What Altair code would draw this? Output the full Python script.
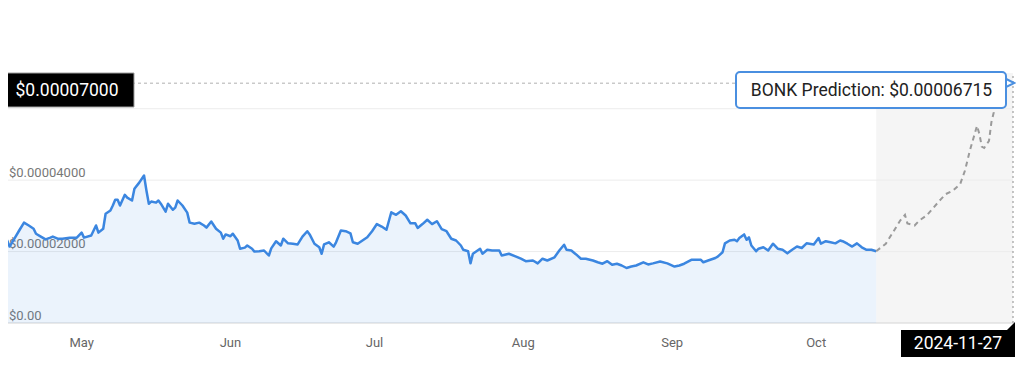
import altair as alt
import pandas as pd

# ---------------- data ----------------
hist_dates = [
    "2024-04-30T00:00", "2024-04-30T12:00", "2024-05-01T12:00", "2024-05-02T00:00", "2024-05-03T00:00",
    "2024-05-04T00:00", "2024-05-05T00:00", "2024-05-06T00:00", "2024-05-07T00:00", "2024-05-07T12:00",
    "2024-05-08T12:00", "2024-05-09T12:00", "2024-05-10T12:00", "2024-05-11T00:00", "2024-05-12T00:00",
    "2024-05-13T00:00", "2024-05-14T12:00", "2024-05-16T00:00", "2024-05-17T00:00", "2024-05-17T12:00",
    "2024-05-19T00:00", "2024-05-19T12:00", "2024-05-20T00:00", "2024-05-20T12:00", "2024-05-21T12:00",
    "2024-05-22T00:00", "2024-05-23T00:00", "2024-05-23T12:00", "2024-05-24T00:00", "2024-05-24T12:00",
    "2024-05-25T00:00", "2024-05-26T00:00", "2024-05-26T12:00", "2024-05-27T12:00", "2024-05-28T00:00",
    "2024-05-29T00:00", "2024-05-30T00:00", "2024-05-30T12:00", "2024-05-31T00:00", "2024-05-31T12:00",
    # June
    "2024-06-01T12:00", "2024-06-02T00:00", "2024-06-02T12:00", "2024-06-03T12:00", "2024-06-04T00:00",
    "2024-06-05T00:00", "2024-06-05T12:00", "2024-06-06T00:00", "2024-06-07T00:00", "2024-06-08T00:00",
    "2024-06-08T12:00", "2024-06-09T12:00", "2024-06-10T12:00", "2024-06-11T12:00", "2024-06-12T00:00",
    "2024-06-13T00:00", "2024-06-14T00:00", "2024-06-15T00:00", "2024-06-15T12:00", "2024-06-16T00:00",
    "2024-06-17T00:00", "2024-06-17T12:00", "2024-06-18T12:00", "2024-06-19T00:00", "2024-06-20T00:00",
    "2024-06-20T12:00", "2024-06-21T12:00", "2024-06-22T00:00", "2024-06-23T00:00", "2024-06-24T00:00",
    "2024-06-25T00:00", "2024-06-25T12:00", "2024-06-26T12:00", "2024-06-27T12:00", "2024-06-28T00:00",
    "2024-06-29T00:00", "2024-06-30T00:00",
    # July
    "2024-07-01T00:00", "2024-07-02T00:00", "2024-07-03T00:00", "2024-07-03T12:00", "2024-07-04T12:00",
    "2024-07-05T00:00", "2024-07-05T12:00", "2024-07-06T00:00", "2024-07-06T12:00", "2024-07-07T12:00",
    "2024-07-08T12:00", "2024-07-09T00:00", "2024-07-10T00:00", "2024-07-11T00:00", "2024-07-12T00:00",
    "2024-07-12T12:00", "2024-07-13T12:00", "2024-07-14T12:00", "2024-07-15T12:00", "2024-07-16T12:00",
    "2024-07-17T12:00", "2024-07-18T12:00", "2024-07-19T12:00", "2024-07-20T12:00", "2024-07-21T12:00",
    "2024-07-22T12:00", "2024-07-23T12:00", "2024-07-24T12:00", "2024-07-25T12:00", "2024-07-26T00:00",
    "2024-07-27T00:00", "2024-07-28T00:00", "2024-07-29T00:00", "2024-07-30T00:00", "2024-07-31T00:00",
    # August
    "2024-08-01T00:00", "2024-08-02T00:00", "2024-08-03T00:00", "2024-08-04T00:00", "2024-08-04T12:00",
    "2024-08-05T12:00", "2024-08-06T00:00", "2024-08-06T12:00", "2024-08-08T00:00", "2024-08-08T12:00",
    "2024-08-09T12:00", "2024-08-10T12:00", "2024-08-12T00:00", "2024-08-12T12:00", "2024-08-14T00:00",
    "2024-08-15T12:00", "2024-08-16T12:00", "2024-08-17T12:00", "2024-08-19T00:00", "2024-08-20T00:00",
    "2024-08-21T00:00", "2024-08-22T00:00", "2024-08-23T12:00", "2024-08-24T12:00", "2024-08-25T12:00",
    "2024-08-26T00:00", "2024-08-27T00:00", "2024-08-28T00:00", "2024-08-29T00:00", "2024-08-30T00:00",
    "2024-08-31T12:00",
    # September
    "2024-09-01T12:00", "2024-09-02T12:00", "2024-09-03T12:00", "2024-09-04T12:00", "2024-09-05T12:00",
    "2024-09-06T12:00", "2024-09-07T12:00", "2024-09-08T12:00", "2024-09-09T12:00", "2024-09-11T00:00",
    "2024-09-12T00:00", "2024-09-13T00:00", "2024-09-14T12:00", "2024-09-16T00:00", "2024-09-17T12:00",
    "2024-09-18T12:00", "2024-09-19T12:00", "2024-09-21T00:00", "2024-09-22T00:00", "2024-09-23T00:00",
    "2024-09-23T12:00", "2024-09-24T12:00", "2024-09-26T00:00", "2024-09-26T12:00", "2024-09-27T12:00",
    "2024-09-28T00:00", "2024-09-29T00:00", "2024-09-30T00:00", "2024-09-30T12:00",
    # October
    "2024-10-01T00:00", "2024-10-02T00:00", "2024-10-02T12:00", "2024-10-03T00:00", "2024-10-03T12:00",
    "2024-10-04T12:00", "2024-10-05T00:00", "2024-10-06T00:00", "2024-10-07T00:00", "2024-10-08T00:00",
    "2024-10-09T00:00", "2024-10-10T00:00", "2024-10-11T00:00", "2024-10-12T00:00", "2024-10-13T00:00",
    "2024-10-14T00:00", "2024-10-15T00:00", "2024-10-16T12:00", "2024-10-17T12:00", "2024-10-18T00:00",
    "2024-10-19T00:00", "2024-10-20T00:00", "2024-10-21T00:00", "2024-10-22T00:00", "2024-10-22T12:00",
    "2024-10-23T12:00", "2024-10-24T12:00", "2024-10-25T12:00", "2024-10-26T12:00", "2024-10-27T12:00",
    "2024-10-28T12:00", "2024-10-29T12:00",
]
hist_prices = [
    2.45e-5, 2.42e-5, 2.31e-5, 2.14e-5, 2.36e-5,
    2.59e-5, 2.81e-5, 2.73e-5, 2.64e-5, 2.50e-5,
    2.42e-5, 2.34e-5, 2.39e-5, 2.42e-5, 2.36e-5,
    2.36e-5, 2.39e-5, 2.39e-5, 2.53e-5, 2.39e-5,
    2.45e-5, 2.59e-5, 2.73e-5, 2.53e-5, 2.64e-5,
    3.06e-5, 3.15e-5, 3.29e-5, 3.45e-5, 3.45e-5,
    3.29e-5, 3.59e-5, 3.51e-5, 3.43e-5, 3.76e-5,
    3.93e-5, 4.13e-5, 3.71e-5, 3.34e-5, 3.40e-5,
    # June
    3.37e-5, 3.43e-5, 3.34e-5, 3.12e-5, 3.34e-5,
    3.17e-5, 3.23e-5, 3.43e-5, 3.29e-5, 3.09e-5,
    2.81e-5, 2.78e-5, 2.81e-5, 2.73e-5, 2.67e-5,
    2.84e-5, 2.64e-5, 2.53e-5, 2.36e-5, 2.48e-5,
    2.43e-5, 2.50e-5, 2.31e-5, 2.08e-5, 2.11e-5,
    2.17e-5, 2.08e-5, 2.00e-5, 2.01e-5, 2.03e-5,
    1.89e-5, 2.09e-5, 2.29e-5, 2.17e-5, 2.36e-5,
    2.23e-5, 2.22e-5,
    # July
    2.20e-5, 2.42e-5, 2.57e-5, 2.48e-5, 2.22e-5,
    2.17e-5, 2.12e-5, 1.94e-5, 2.20e-5, 2.26e-5,
    2.14e-5, 2.26e-5, 2.59e-5, 2.57e-5, 2.51e-5,
    2.26e-5, 2.22e-5, 2.31e-5, 2.40e-5, 2.57e-5,
    2.77e-5, 2.70e-5, 2.61e-5, 3.10e-5, 3.03e-5,
    3.13e-5, 3.01e-5, 2.79e-5, 2.79e-5, 2.66e-5,
    2.77e-5, 2.89e-5, 2.77e-5, 2.85e-5, 2.63e-5,
    # August
    2.57e-5, 2.36e-5, 2.31e-5, 2.17e-5, 2.05e-5,
    2.01e-5, 1.67e-5, 1.94e-5, 2.08e-5, 1.94e-5,
    2.05e-5, 2.03e-5, 2.03e-5, 1.89e-5, 1.94e-5,
    1.86e-5, 1.80e-5, 1.73e-5, 1.75e-5, 1.67e-5,
    1.80e-5, 1.75e-5, 1.84e-5, 2.03e-5, 2.19e-5,
    2.05e-5, 2.03e-5, 1.92e-5, 1.80e-5, 1.80e-5,
    1.75e-5,
    # September
    1.70e-5, 1.66e-5, 1.73e-5, 1.63e-5, 1.66e-5,
    1.61e-5, 1.54e-5, 1.58e-5, 1.61e-5, 1.70e-5,
    1.64e-5, 1.67e-5, 1.72e-5, 1.67e-5, 1.58e-5,
    1.61e-5, 1.66e-5, 1.77e-5, 1.77e-5, 1.77e-5,
    1.70e-5, 1.75e-5, 1.82e-5, 1.86e-5, 1.98e-5,
    2.23e-5, 2.31e-5, 2.33e-5, 2.29e-5,
    # October
    2.38e-5, 2.48e-5, 2.33e-5, 2.40e-5, 2.17e-5,
    2.01e-5, 2.08e-5, 2.12e-5, 2.03e-5, 2.22e-5,
    2.08e-5, 2.05e-5, 1.95e-5, 2.05e-5, 2.14e-5,
    2.10e-5, 2.23e-5, 2.20e-5, 2.38e-5, 2.22e-5,
    2.29e-5, 2.26e-5, 2.23e-5, 2.31e-5, 2.29e-5,
    2.22e-5, 2.14e-5, 2.23e-5, 2.12e-5, 2.05e-5,
    2.05e-5, 2.01e-5,
]

forecast_dates = [
    "2024-10-29T12:00", "2024-10-31T12:00", "2024-11-02T00:00", "2024-11-03T12:00", "2024-11-04T12:00",
    "2024-11-05T00:00", "2024-11-06T12:00", "2024-11-07T12:00", "2024-11-09T00:00", "2024-11-10T12:00",
    "2024-11-12T00:00", "2024-11-13T00:00", "2024-11-14T12:00", "2024-11-16T00:00", "2024-11-17T00:00",
    "2024-11-18T00:00", "2024-11-19T12:00", "2024-11-20T00:00", "2024-11-20T12:00", "2024-11-21T00:00",
    "2024-11-22T00:00", "2024-11-22T12:00", "2024-11-23T00:00", "2024-11-23T12:00", "2024-11-24T12:00",
    "2024-11-27T00:00",
]
forecast_prices = [
    2.01e-5, 2.22e-5, 2.54e-5, 2.87e-5, 3.03e-5,
    2.79e-5, 2.73e-5, 2.87e-5, 3.01e-5, 3.24e-5,
    3.47e-5, 3.61e-5, 3.71e-5, 3.89e-5, 4.27e-5,
    4.82e-5, 5.52e-5, 5.29e-5, 4.94e-5, 4.90e-5,
    5.10e-5, 5.62e-5, 5.90e-5, 6.22e-5, 6.56e-5,
    6.715e-5,
]

grid_ticks = [2e-5, 4e-5, 6e-5]
label_ticks = [0, 2e-5, 4e-5]
y_max = 7e-5
month_labels = ["May", "Jun", "Jul", "Aug", "Sep", "Oct"]
month_label_dates = ["2024-05-17", "2024-06-17", "2024-07-17", "2024-08-17", "2024-09-17", "2024-10-17"]
x_start = "2024-04-30"
x_end = "2024-11-27"

assert len(hist_dates) == len(hist_prices)
assert len(forecast_dates) == len(forecast_prices)

# ---------------- tables ----------------
hist = pd.DataFrame({"date": pd.to_datetime(hist_dates), "price": hist_prices})
fc = pd.DataFrame({"date": pd.to_datetime(forecast_dates), "price": forecast_prices})

prediction = forecast_prices[-1]
pred_label = f"BONK Prediction: ${prediction:.8f}"
top_label = f"${y_max:.8f}"
date_label = x_end


def money(v):
    return "$0.00" if v == 0 else f"${v:.8f}"


ts_start = pd.Timestamp(x_start)
ts_end = pd.Timestamp(x_end)

grid_df = pd.DataFrame({"date": [ts_start] * len(grid_ticks), "end": [ts_end] * len(grid_ticks),
                        "price": grid_ticks})
base_df = pd.DataFrame({"date": [ts_start], "end": [ts_end], "price": [0.0]})
ylab_df = pd.DataFrame({"date": [ts_start] * len(label_ticks), "price": label_ticks,
                        "label": [money(v) for v in label_ticks]})
xlab_df = pd.DataFrame({"date": pd.to_datetime(month_label_dates), "price": [0.0] * len(month_labels),
                        "label": month_labels})
region = pd.DataFrame({"date": [fc["date"].iloc[0]], "end": [fc["date"].iloc[-1]],
                       "price": [0.0], "hi": [y_max]})
hline_df = pd.DataFrame({"date": [ts_start], "end": [ts_end], "price": [prediction]})
vline_df = pd.DataFrame({"date": [ts_end], "price": [0.0], "hi": [y_max]})

x_scale = alt.Scale(domain=[ts_start.isoformat(), ts_end.isoformat()], type="time")
y_scale = alt.Scale(domain=[0, y_max], nice=False, zero=True)

FONT = "Roboto"
BLUE = "#3b86e0"

X = alt.X("date:T", scale=x_scale, axis=None)
Y = alt.Y("price:Q", scale=y_scale, axis=None)

shade = alt.Chart(region).mark_rect(color="#000000", opacity=0.04).encode(x=X, x2="end:T", y=Y, y2="hi:Q")
grid = alt.Chart(grid_df).mark_rule(color="#ececec", strokeWidth=1).encode(x=X, x2="end:T", y=Y)
baseline = alt.Chart(base_df).mark_rule(color="#d4d4d4", strokeWidth=1).encode(x=X, x2="end:T", y=Y)
ylabels = alt.Chart(ylab_df).mark_text(
    align="left", baseline="alphabetic", dx=9, dy=-3.5, font=FONT, fontSize=13, color="#777777"
).encode(x=X, y=Y, text="label:N")

area = alt.Chart(hist).mark_area(color=BLUE, opacity=0.1).encode(x=X, y=Y)
line = alt.Chart(hist).mark_line(color=BLUE, strokeWidth=2.5, strokeJoin="round").encode(x=X, y=Y)
fc_line = alt.Chart(fc).mark_line(color="#9a9a9a", strokeWidth=2, strokeDash=[5, 4]).encode(x=X, y=Y)

hline = alt.Chart(hline_df).mark_rule(color="#b0b0b0", strokeWidth=1, strokeDash=[3, 3]).encode(
    x=X, x2="end:T", y=Y)
vline = alt.Chart(vline_df).mark_rule(color="#a0a0a0", strokeWidth=1.2, strokeDash=[2, 3]).encode(
    x=X, y=Y, y2="hi:Q")

xlabels = alt.Chart(xlab_df).mark_text(
    align="center", baseline="middle", dy=20, font=FONT, fontSize=13, color="#666666"
).encode(x=X, y=Y, text="label:N")

one = pd.DataFrame({"k": [0]})
base = alt.Chart(one)

# left value label (black)
left_box = base.mark_rect(color="black", stroke="#9e9e9e", strokeWidth=1).encode(
    x=alt.value(2), x2=alt.value(134), y=alt.value(0), y2=alt.value(34))
left_text = base.mark_text(color="white", font=FONT, fontSize=17.5, align="center", baseline="middle").encode(
    x=alt.value(67), y=alt.value(17.5), text=alt.value(top_label))

# prediction tooltip
tip_arrow = base.mark_point(shape="M-1,-1L1,0L-1,1Z", filled=True, fill="white", stroke="#4a8fe0",
                            strokeWidth=2, size=110, opacity=1).encode(
    x=alt.value(1009), y=alt.value(10))
tip_box = base.mark_rect(fill="white", stroke="#4a8fe0", strokeWidth=2, cornerRadius=4).encode(
    x=alt.value(736), x2=alt.value(1006), y=alt.value(-1), y2=alt.value(35))
tip_text = base.mark_text(color="#222222", font=FONT, fontSize=17.5, align="center", baseline="middle").encode(
    x=alt.value(871.5), y=alt.value(18), text=alt.value(pred_label))

# bottom date label (black)
date_notch = base.mark_point(shape="M-1,1L1,-1L1,1Z", filled=True, color="black", size=81, opacity=1).encode(
    x=alt.value(1010.5), y=alt.value(253.5))
date_box = base.mark_rect(color="black").encode(
    x=alt.value(901), x2=alt.value(1015), y=alt.value(257), y2=alt.value(284))
date_text = base.mark_text(color="white", font=FONT, fontSize=17.5, align="center", baseline="middle").encode(
    x=alt.value(958), y=alt.value(271), text=alt.value(date_label))

chart = alt.layer(
    shade, grid, baseline, ylabels, area, line, fc_line, hline, vline, xlabels,
    left_box, left_text, tip_arrow, tip_box, tip_text,
    date_notch, date_box, date_text,
).properties(
    width=1013, height=250,
    autosize=alt.AutoSizeParams(type="none"),
    padding={"left": -8, "top": 65, "right": 3, "bottom": 34},
    background="white",
).configure_view(stroke=None)

chart.save("out.html", embed_options={"renderer": "svg", "actions": False})
